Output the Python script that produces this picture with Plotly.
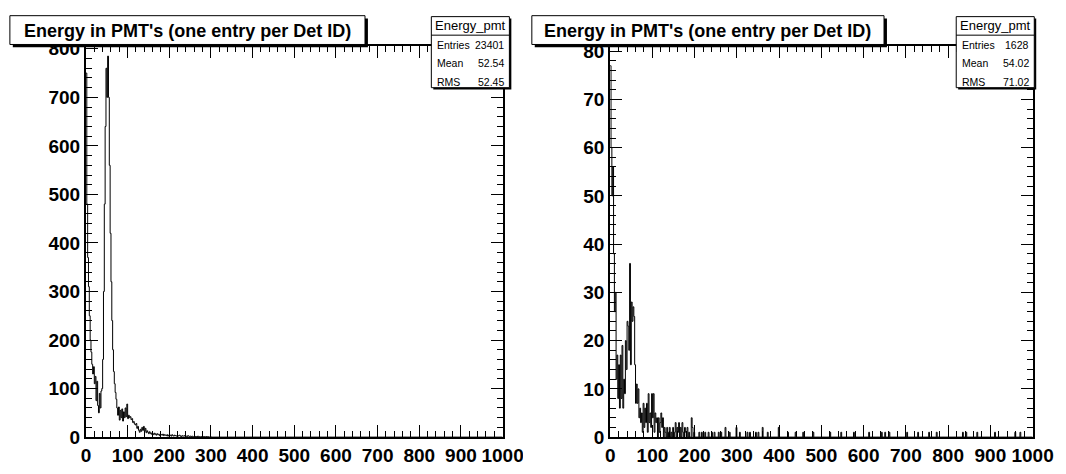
import numpy as np
import plotly.graph_objects as go

# ---------------- data ----------------
BIN_W = 2          # bin width (energy units)
N_BINS = 500       # 0 .. 1000

# left panel: counts per bin, from 0 upward (rest are zero)
left_counts = [
    750, 480, 370, 310, 250, 200, 175, 150, 130, 145,
    110, 125, 75, 115, 65, 50, 90, 60, 95, 100,
    160, 300, 480, 640, 760, 700, 785, 700, 560, 420,
    320, 240, 180, 135, 110, 92, 78, 60, 45, 62,
    35, 55, 40, 58, 33, 52, 40, 60, 42, 68,
    38, 45, 40, 42, 36, 38, 30, 32, 27, 25,
    28, 18, 22, 14, 10, 16, 12, 20, 14, 22,
    12, 18, 9, 13, 10, 7, 11, 8, 6, 9,
    7, 5, 8, 6, 4, 7, 5, 6, 3, 6,
    5, 4, 6, 3, 5, 4, 3, 5, 2, 4,
    3, 4, 2, 5, 3, 2, 4, 3, 2, 3,
    2, 3, 4, 2, 1, 3, 2, 2, 3, 1,
    2, 1, 3, 2, 1, 2, 1, 2, 1, 1,
    2, 1, 1, 0, 2, 1, 1, 0, 1, 1,
    0, 1, 1, 0, 1, 0, 1, 0, 0, 1,
]

# right panel: counts per bin from 0 to 200
right_counts = [
    77, 60, 50, 56, 38, 26, 30, 12, 17, 8,
    15, 6, 17, 8, 19, 6, 12, 9, 20, 14,
    24, 23, 18, 36, 15, 28, 24, 27, 25, 15,
    7, 11, 7, 10, 4, 6, 3, 5, 1, 7,
    2, 6, 3, 7, 1, 9, 3, 5, 2, 9,
    4, 9, 1, 5, 3, 4, 0, 4, 1, 3,
    5, 2, 4, 0, 2, 1, 0, 2, 0, 1,
    2, 0, 1, 0, 2, 0, 1, 3, 0, 2,
    1, 3, 0, 2, 0, 3, 1, 0, 2, 1,
    0, 2, 0, 1, 0, 0, 4, 2, 0, 1,
]
# right panel: sparse tail beyond 200 (energy, count)
right_tail_x = [210, 216, 224, 232, 240, 246, 256, 262, 272, 282, 299, 306,
                324, 330, 344, 350, 361, 372, 399, 420, 438, 457, 480, 520,
                546, 577, 612, 642, 650, 661, 703, 728, 755, 772, 834, 842,
                868, 910, 958, 970]
right_tail_y = [1, 1, 1, 1, 1, 1, 1, 1, 2, 1, 2, 1,
                1, 1, 1, 1, 2, 1, 2, 1, 1, 1, 1, 1,
                1, 1, 1, 1, 1, 1, 1, 1, 1, 1, 1, 1,
                1, 1, 1, 1]

x_major = list(range(0, 1001, 100))
left_y_ticks = list(range(0, 801, 100))
right_y_ticks = list(range(0, 81, 10))

title_text = "Energy in PMT's (one entry per Det ID)"
stats_name = "Energy_pmt"
left_stats = [("Entries", "23401"), ("Mean", "52.54"), ("RMS", "52.45")]
right_stats = [("Entries", "1628"), ("Mean", "54.02"), ("RMS", "71.02")]

# ---------------- build histograms ----------------
def full_hist(head, tx=None, ty=None):
    h = np.zeros(N_BINS)
    h[:len(head)] = head
    if tx is not None:
        for xv, yv in zip(tx, ty):
            h[int(xv // BIN_W)] += yv
    return h

hl = full_hist(left_counts)
hr = full_hist(right_counts, right_tail_x, right_tail_y)
edges = np.arange(N_BINS + 1) * BIN_W

W, H = 1066, 474
def px(x):
    return x / W
def py(y):
    return 1 - y / H

FONT = "Liberation Sans, Arial, Helvetica, sans-serif"
TICKFONT = dict(family=FONT, size=19, color="black", weight="bold")

fig = go.Figure()
for h, xa, ya in [(hl, "x", "y"), (hr, "x2", "y2")]:
    fig.add_trace(go.Scatter(
        x=edges, y=np.append(h, h[-1]), mode="lines",
        line=dict(color="black", width=1, shape="hv"),
        xaxis=xa, yaxis=ya, showlegend=False, hoverinfo="skip"))

def xaxis_cfg(domain, anchor):
    return dict(
        domain=domain, anchor=anchor, range=[0, 1000],
        tickmode="array", tickvals=x_major, ticktext=[str(v) for v in x_major],
        ticks="inside", ticklen=12, tickwidth=1, tickcolor="black",
        minor=dict(dtick=20, ticks="inside", ticklen=6, tickcolor="black", tickwidth=1),
        showline=True, linecolor="black", linewidth=2, mirror="ticks",
        showgrid=False, zeroline=False, ticklabeloverflow="allow",
        tickfont=TICKFONT,
    )

def yaxis_cfg(anchor, rng, tv, minor_dt):
    return dict(
        domain=[py(447), py(40)], anchor=anchor, range=rng,
        tickmode="array", tickvals=tv,
        ticks="inside", ticklen=12, tickwidth=1, tickcolor="black",
        minor=dict(dtick=minor_dt, ticks="inside", ticklen=6, tickcolor="black", tickwidth=1),
        showline=True, linecolor="black", linewidth=2, mirror="ticks",
        showgrid=False, zeroline=False, tickfont=TICKFONT,
    )

shapes = []
annotations = []

def box(x0, y0, x1, y1, shadow):
    shapes.append(dict(type="rect", xref="paper", yref="paper",
                       x0=px(x0 + shadow), x1=px(x1 + shadow),
                       y0=py(y1 + shadow), y1=py(y0 + shadow),
                       fillcolor="black", line=dict(width=0), layer="above"))
    shapes.append(dict(type="rect", xref="paper", yref="paper",
                       x0=px(x0), x1=px(x1), y0=py(y1), y1=py(y0),
                       fillcolor="white", line=dict(color="black", width=1), layer="above"))

# the left pad ends at x=531: its "1000" label is cut there
shapes.append(dict(type="rect", xref="paper", yref="paper",
                   x0=px(531), x1=px(603), y0=0, y1=py(449),
                   fillcolor="white", line=dict(width=0), layer="above"))

for (bx0, bx1, sx0, sx1, stats) in [(5, 369, 437, 517, left_stats),
                                     (540, 901, 975, 1055, right_stats)]:
    # title box
    box(bx0, 8, bx1, 38, 3)
    annotations.append(dict(xref="paper", yref="paper", x=px((bx0 + bx1) / 2), y=py(23.5),
                            xanchor="center", yanchor="middle", showarrow=False,
                            text="<b>" + title_text + "</b>",
                            font=dict(family=FONT, size=18, color="black")))
    # stats box
    box(sx0, 9, sx1, 83, 2)
    shapes.append(dict(type="line", xref="paper", yref="paper",
                       x0=px(sx0), x1=px(sx1), y0=py(28.3), y1=py(28.3),
                       line=dict(color="black", width=1), layer="above"))
    annotations.append(dict(xref="paper", yref="paper", x=px((sx0 + sx1) / 2), y=py(18.7),
                            xanchor="center", yanchor="middle", showarrow=False,
                            text=stats_name, font=dict(family=FONT, size=13, color="black")))
    for i, (lab, val) in enumerate(stats):
        yy = 38.3 + i * 19.2
        annotations.append(dict(xref="paper", yref="paper", x=px(sx0 + 3.5), y=py(yy),
                                xanchor="left", yanchor="middle", showarrow=False,
                                text=lab, font=dict(family=FONT, size=10.5, color="black")))
        annotations.append(dict(xref="paper", yref="paper", x=px(sx1 - 3), y=py(yy),
                                xanchor="right", yanchor="middle", showarrow=False,
                                text=val, font=dict(family=FONT, size=10.5, color="black")))

fig.update_layout(
    width=W, height=H, margin=dict(l=0, r=0, t=0, b=0), autosize=False,
    paper_bgcolor="white", plot_bgcolor="white",
    xaxis=xaxis_cfg([px(83), px(510)], "y"),
    yaxis=yaxis_cfg("x", [0, 805], left_y_ticks, 20),
    xaxis2=xaxis_cfg([px(620.3), px(1053.3)], "y2"),
    yaxis2=yaxis_cfg("x2", [0, 81], right_y_ticks, 2),
    shapes=shapes, annotations=annotations,
)

post = (
    "var st='margin:0;padding:0;overflow:hidden;';"
    "document.documentElement.style.cssText=st;"
    "document.body.style.cssText=st;"
)

fig.write_html(
    "out.html",
    config={"responsive": False, "displayModeBar": False},
    post_script=post,
)
